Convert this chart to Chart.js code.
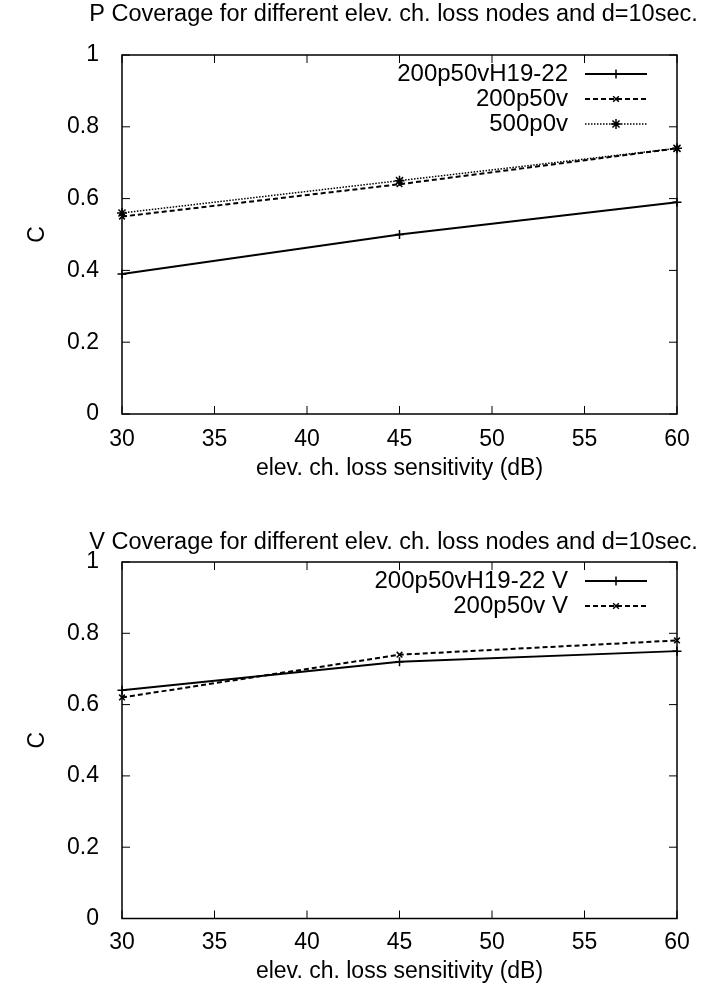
<!DOCTYPE html>
<html>
<head>
<meta charset="utf-8">
<script src="https://cdn.jsdelivr.net/npm/chart.js@4.4.1/dist/chart.umd.min.js"></script>
<style>
  html, body { margin: 0; padding: 0; background: #fff; }
  canvas { display: block; }
</style>
</head>
<body>
<canvas id="chart-p" width="713" height="497"></canvas>
<canvas id="chart-v" width="713" height="497"></canvas>
<script>
// x values (sensitivity in dB)
const sensitivity = [30, 45, 60];

// P coverage
const pH19 = [0.39, 0.50, 0.59];
const p200 = [0.55, 0.64, 0.74];
const p500 = [0.56, 0.65, 0.74];

// V coverage
const vH19 = [0.64, 0.72, 0.75];
const v200 = [0.62, 0.74, 0.78];

const FONT = "'Liberation Sans', Arial, sans-serif";

// line styles like gnuplot: solid / dashed / dotted
const styles = [
    { dash: [], width: 2, point: 'cross', radius: 4.5 },
    { dash: [5, 3], width: 2, point: 'crossRot', radius: 4 },
    { dash: [1.5, 1.5], width: 1.5, point: 'star', radius: 5 }
];

function toPoints(values) {
    return values.map((v, i) => ({ x: sensitivity[i], y: v }));
}

// frame round the plot with inward ticks on all four sides
const framePlugin = {
    id: 'frame',
    beforeDatasetsDraw(chart) {
        const ctx = chart.ctx;
        const a = chart.chartArea;
        const xs = chart.scales.x;
        const ys = chart.scales.y;
        const len = 8;
        ctx.save();
        ctx.strokeStyle = '#000';
        ctx.lineWidth = 1.5;
        ctx.strokeRect(a.left, a.top, a.right - a.left, a.bottom - a.top);
        ctx.lineWidth = 1;
        ctx.beginPath();
        xs.ticks.forEach((t) => {
            const px = xs.getPixelForValue(t.value);
            ctx.moveTo(px, a.bottom); ctx.lineTo(px, a.bottom - len);
            ctx.moveTo(px, a.top); ctx.lineTo(px, a.top + len);
        });
        ys.ticks.forEach((t) => {
            const py = ys.getPixelForValue(t.value);
            ctx.moveTo(a.left, py); ctx.lineTo(a.left + len, py);
            ctx.moveTo(a.right, py); ctx.lineTo(a.right - len, py);
        });
        ctx.stroke();
        ctx.restore();
    }
};

// title drawn over the plot centre (gnuplot style, can run past the frame)
const plotTitlePlugin = {
    id: 'plotTitle',
    afterDraw(chart, args, opts) {
        const ctx = chart.ctx;
        const a = chart.chartArea;
        ctx.save();
        ctx.font = '23.5px ' + FONT;
        ctx.fillStyle = '#000';
        ctx.textAlign = 'center';
        ctx.textBaseline = 'middle';
        ctx.fillText(opts.text, (a.left + a.right) / 2 - 6, opts.y);
        ctx.restore();
    }
};

// legend inside the plot, text on the left and line sample on the right
const keyPlugin = {
    id: 'key',
    afterDatasetsDraw(chart) {
        const ctx = chart.ctx;
        const a = chart.chartArea;
        ctx.save();
        ctx.font = '24px ' + FONT;
        ctx.textAlign = 'right';
        ctx.textBaseline = 'middle';
        chart.data.datasets.forEach((ds, i) => {
            const y = a.top + 19 + i * 25;
            ctx.fillStyle = '#000';
            ctx.fillText(ds.label, a.right - 109, y);
            ctx.strokeStyle = '#000';
            ctx.lineWidth = ds.borderWidth;
            ctx.setLineDash(ds.borderDash);
            ctx.beginPath();
            ctx.moveTo(a.right - 92, y);
            ctx.lineTo(a.right - 30, y);
            ctx.stroke();
            ctx.setLineDash([]);
            ctx.lineWidth = ds.pointBorderWidth;
            Chart.helpers.drawPoint(ctx, {
                pointStyle: ds.pointStyle,
                radius: ds.pointRadius,
                borderWidth: ds.pointBorderWidth,
                rotation: 0
            }, a.right - 61, y);
        });
        ctx.restore();
    }
};

function makeCoverageChart(canvasId, titleText, names, series, lay) {
    const datasets = series.map((values, i) => ({
        label: names[i],
        data: toPoints(values),
        borderColor: '#000',
        backgroundColor: '#000',
        borderWidth: styles[i].width,
        borderDash: styles[i].dash,
        pointStyle: styles[i].point,
        pointRadius: styles[i].radius,
        pointBorderWidth: 1.5,
        pointBorderColor: '#000',
        fill: false,
        tension: 0,
        clip: false
    }));

    const ctx = document.getElementById(canvasId).getContext('2d');
    new Chart(ctx, {
        type: 'line',
        data: { datasets: datasets },
        plugins: [framePlugin, keyPlugin, plotTitlePlugin],
        options: {
            responsive: false,
            animation: false,
            devicePixelRatio: 1,
            layout: { padding: { left: 0, right: 36, top: lay.top, bottom: 0 } },
            plugins: {
                legend: { display: false },
                tooltip: { enabled: false },
                title: { display: false },
                plotTitle: { text: titleText, y: lay.titleY }
            },
            scales: {
                x: {
                    type: 'linear',
                    min: 30,
                    max: 60,
                    grid: { display: false },
                    border: { display: false },
                    ticks: {
                        stepSize: 5,
                        padding: lay.xTickPad,
                        color: '#000',
                        maxRotation: 0,
                        font: { family: FONT, size: 23 }
                    },
                    title: {
                        display: true,
                        text: 'elev. ch. loss sensitivity (dB)',
                        color: '#000',
                        font: { family: FONT, size: 23 },
                        padding: { top: 0, bottom: lay.xTitlePad }
                    },
                    afterFit: (scale) => { scale.height = lay.xHeight; }
                },
                y: {
                    min: 0,
                    max: 1,
                    grid: { display: false },
                    border: { display: false },
                    ticks: {
                        stepSize: 0.2,
                        padding: 15,
                        color: '#000',
                        font: { family: FONT, size: 23 },
                        callback: (value) => String(Math.round(value * 10) / 10)
                    },
                    title: {
                        display: true,
                        text: 'C',
                        color: '#000',
                        font: { family: FONT, size: 23 },
                        padding: { top: 24, bottom: 0 }
                    },
                    afterFit: (scale) => { scale.width = 122; }
                }
            }
        }
    });
}

makeCoverageChart('chart-p', 'P Coverage for different elev. ch. loss nodes and d=10sec.',
    ['200p50vH19-22', '200p50v', '500p0v'], [pH19, p200, p500],
    { top: 55, titleY: 15, xHeight: 83, xTickPad: 4, xTitlePad: 15 });

makeCoverageChart('chart-v', 'V Coverage for different elev. ch. loss nodes and d=10sec.',
    ['200p50vH19-22 V', '200p50v V'], [vH19, v200],
    { top: 65, titleY: 46, xHeight: 75.5, xTickPad: 2, xTitlePad: 9 });
</script>
</body>
</html>
